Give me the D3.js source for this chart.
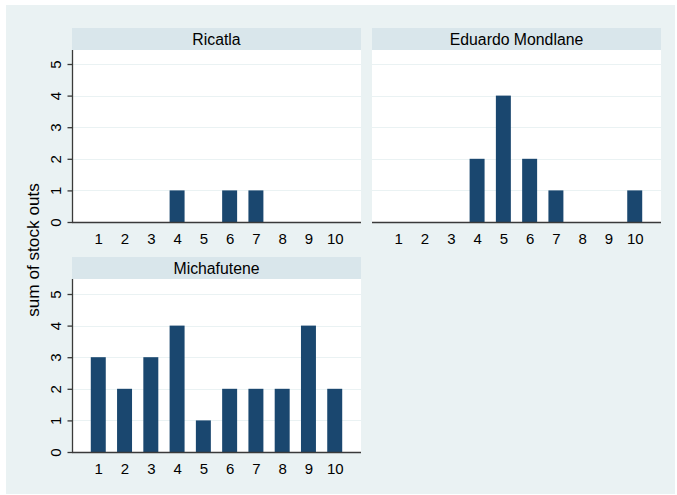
<!DOCTYPE html>
<html>
<head>
<meta charset="utf-8">
<script src="https://cdn.jsdelivr.net/npm/d3@7"></script>
<style>
  html, body { margin: 0; padding: 0; background: #ffffff; }
  svg { display: block; }
  text { font-family: "Liberation Sans", Arial, sans-serif; fill: #000; }
</style>
</head>
<body>
<svg id="chart" width="677" height="495"></svg>
<script>
// Stock-out counts per period, one panel per facility
const periods = [1, 2, 3, 4, 5, 6, 7, 8, 9, 10];
const panelNames = ["Ricatla", "Eduardo Mondlane", "Michafutene"];
const ricatla = [0, 0, 0, 1, 0, 1, 1, 0, 0, 0];
const eduardoMondlane = [0, 0, 0, 2, 4, 2, 1, 0, 0, 1];
const michafutene = [3, 2, 3, 4, 1, 2, 2, 2, 4, 2];
const yTicks = [0, 1, 2, 3, 4, 5];
const yTitle = "sum of stock outs";

const seriesByPanel = [ricatla, eduardoMondlane, michafutene];

const svg = d3.select("#chart");
const FONT = '"Liberation Sans", Arial, sans-serif';

// Graph region background
svg.append("rect")
  .attr("x", 6).attr("y", 5).attr("width", 669).attr("height", 489)
  .attr("fill", "#eaf2f3");

// Panel geometry
const panels = [
  { x0: 72,  x1: 361, hTop: 28,  pTop: 50,  base: 222, yAxis: true },
  { x0: 372, x1: 661, hTop: 28,  pTop: 50,  base: 222, yAxis: false },
  { x0: 72,  x1: 361, hTop: 257, pTop: 279, base: 452, yAxis: true }
];
const unitPx = 31.6;

panels.forEach((p, i) => {
  const g = svg.append("g");
  const values = seriesByPanel[i];

  const x = d3.scaleLinear().domain([0, periods.length + 1]).range([p.x0, p.x1]);
  const y = d3.scaleLinear().domain([0, 5]).range([p.base, p.base - 5 * unitPx]);
  const step = x(1) - x(0);
  const barW = step * 0.57;

  // header strip
  g.append("rect")
    .attr("x", p.x0).attr("y", p.hTop)
    .attr("width", p.x1 - p.x0).attr("height", p.pTop - p.hTop)
    .attr("fill", "#d9e6eb");
  g.append("text")
    .attr("x", (p.x0 + p.x1) / 2).attr("y", (p.hTop + p.pTop) / 2 + 5.5)
    .attr("text-anchor", "middle")
    .attr("font-size", "15.8px")
    .text(panelNames[i]);

  // plot area
  g.append("rect")
    .attr("x", p.x0).attr("y", p.pTop)
    .attr("width", p.x1 - p.x0).attr("height", p.base - p.pTop)
    .attr("fill", "#ffffff");

  // gridlines
  g.selectAll(".grid")
    .data(yTicks.filter(t => t > 0))
    .join("line")
    .attr("x1", p.x0).attr("x2", p.x1)
    .attr("y1", d => Math.round(y(d)) + 0.5).attr("y2", d => Math.round(y(d)) + 0.5)
    .attr("stroke", "#eaf2f3").attr("stroke-width", 1.2);

  // bars
  g.selectAll(".bar")
    .data(periods.map((d, k) => ({ period: d, value: values[k] })).filter(d => d.value > 0))
    .join("rect")
    .attr("x", d => x(d.period) - barW / 2)
    .attr("width", barW)
    .attr("y", d => y(d.value))
    .attr("height", d => y(0) - y(d.value))
    .attr("fill", "#1a476f");

  // x axis: baseline and period labels (no tick marks)
  const xAxis = d3.axisBottom(x)
    .tickValues(periods)
    .tickSize(0)
    .tickPadding(11)
    .tickFormat(d3.format("d"));
  const xg = g.append("g")
    .attr("transform", `translate(0,${Math.round(p.base) + 0.5})`)
    .call(xAxis);
  xg.select(".domain").attr("stroke", "#3a3a3a").attr("stroke-width", 1.3)
    .attr("d", `M${p.x0},0H${p.x1}`);
  xg.selectAll("text").attr("font-size", "15px").style("font-family", FONT);

  // y axis with rotated tick labels
  if (p.yAxis) {
    const yAxis = d3.axisLeft(y).tickValues(yTicks).tickSize(5).tickPadding(4)
      .tickFormat(d3.format("d"));
    const yg = g.append("g")
      .attr("transform", `translate(${p.x0 + 0.5},0)`)
      .call(yAxis);
    yg.select(".domain").attr("stroke", "#3a3a3a").attr("stroke-width", 1.3)
      .attr("d", `M0,${p.pTop}V${p.base + 0.5}`);
    yg.selectAll(".tick line").attr("stroke", "#3a3a3a").attr("stroke-width", 1.3);
    yg.selectAll(".tick text")
      .attr("font-size", "15px")
      .style("font-family", FONT)
      .attr("x", null).attr("dy", null)
      .attr("text-anchor", "middle")
      .attr("transform", "translate(-12,0) rotate(-90)");
  }
});

// shared y-axis title
svg.append("text")
  .attr("transform", "translate(38.5,250) rotate(-90)")
  .attr("text-anchor", "middle")
  .attr("font-size", "17.2px")
  .text(yTitle);
</script>
</body>
</html>
